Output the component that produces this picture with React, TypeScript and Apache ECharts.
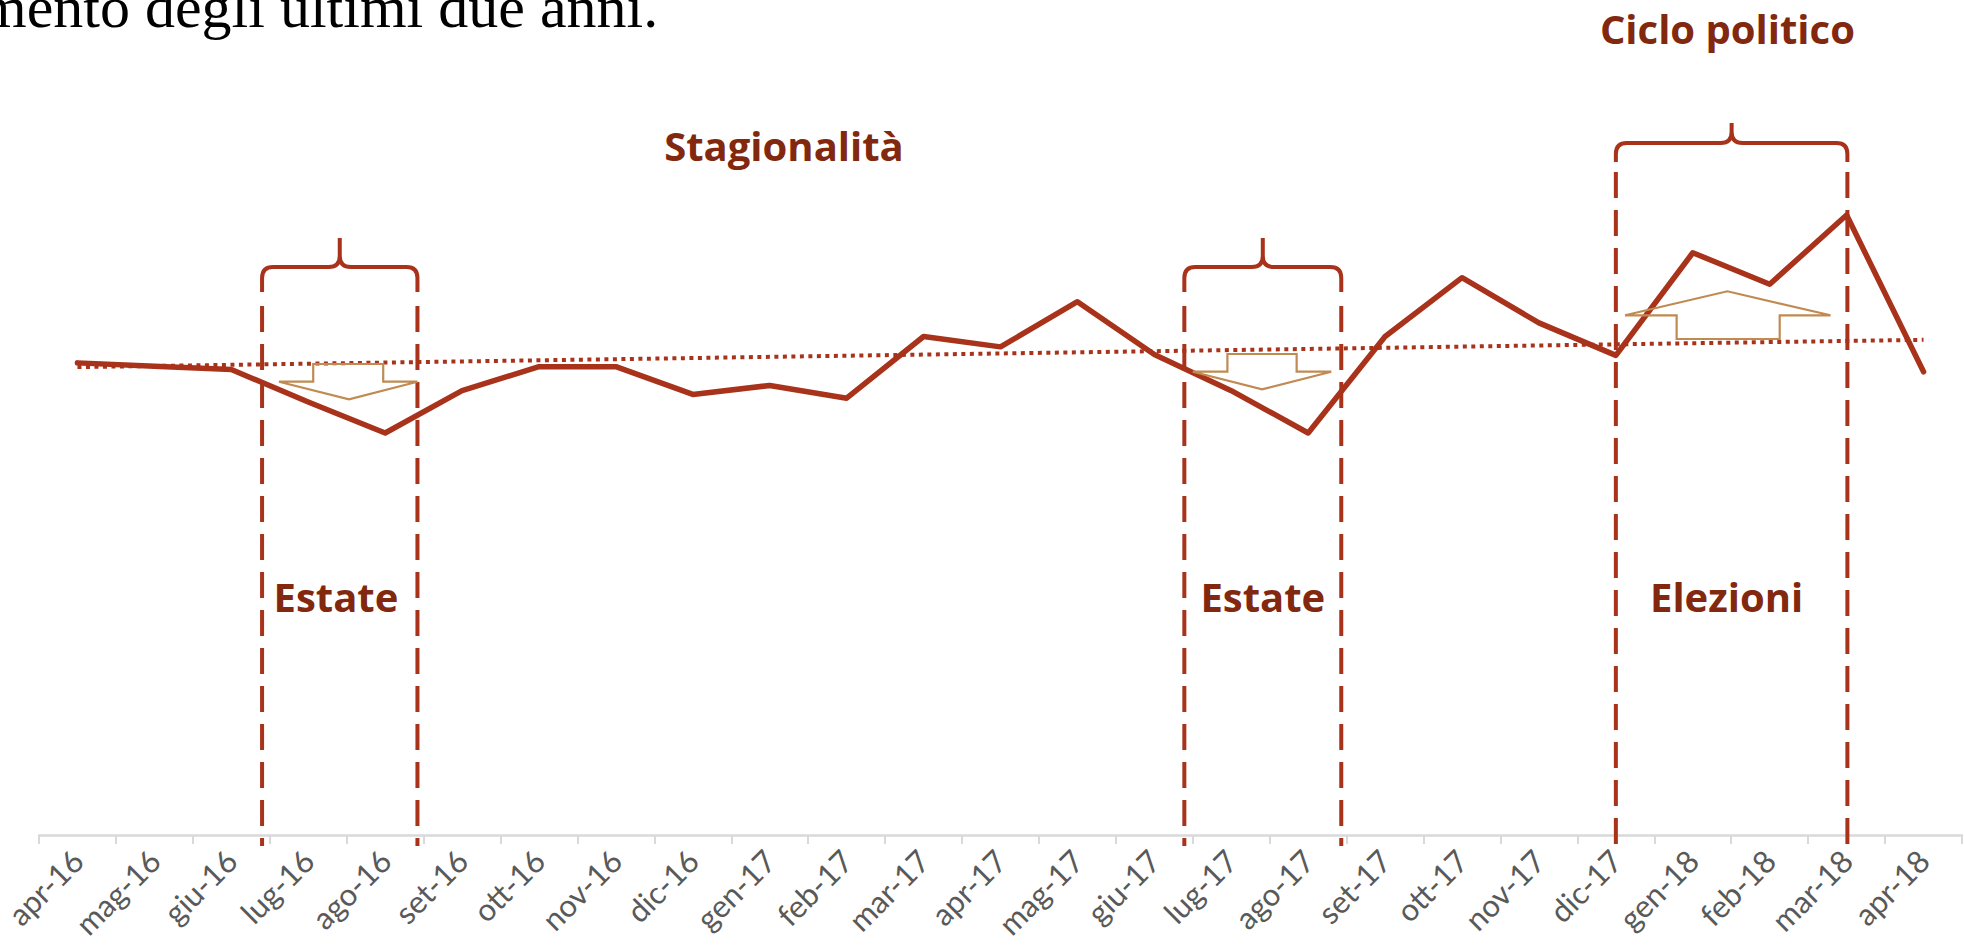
import React, { useEffect, useRef } from "react";
import * as echarts from "echarts";

// ---------- data ----------
const months = [
  "apr-16", "mag-16", "giu-16", "lug-16", "ago-16", "set-16", "ott-16", "nov-16",
  "dic-16", "gen-17", "feb-17", "mar-17", "apr-17", "mag-17", "giu-17", "lug-17",
  "ago-17", "set-17", "ott-17", "nov-17", "dic-17", "gen-18", "feb-18", "mar-18", "apr-18",
];
const values = [
  100.3, 99.6, 98.9, 92.0, 85.4, 94.4, 99.5, 99.5,
  93.6, 95.5, 92.8, 105.9, 103.7, 113.3, 102.1, 94.4,
  85.4, 105.9, 118.4, 108.8, 101.9, 123.7, 117.0, 131.7, 98.4,
];
const trendStart = 99.4;
const trendEnd = 105.2;

const titles = ["Stagionalità", "Ciclo politico"];
const periodLabels = ["Estate", "Estate", "Elezioni"];
const headerText = "mento degli ultimi due anni.";

// ---------- styles ----------
const RED = "#A8321A";
const TEXT_RED = "#82280F";
const TAN = "#C08A52";
const LABEL_FONT = "'Open Sans', Lato, sans-serif";

// curly brace shape
const Brace = (echarts.graphic as any).extendShape({
  shape: { x1: 0, x2: 0, y: 0, tip: 0, bottom: 0, r: 10 },
  buildPath(ctx: any, s: any) {
    const { x1, x2, y, tip, bottom, r } = s;
    const cx = (x1 + x2) / 2;
    ctx.moveTo(x1, bottom);
    ctx.lineTo(x1, y + r);
    ctx.quadraticCurveTo(x1, y, x1 + r, y);
    ctx.lineTo(cx - r, y);
    ctx.quadraticCurveTo(cx, y, cx, y - r);
    ctx.lineTo(cx, tip);
    ctx.moveTo(cx, y - r);
    ctx.quadraticCurveTo(cx, y, cx + r, y);
    ctx.lineTo(x2 - r, y);
    ctx.quadraticCurveTo(x2, y, x2, y + r);
    ctx.lineTo(x2, bottom);
  },
});
(echarts.graphic as any).registerShape("brace", Brace);

// annotation layout (x in category-index units, y in pixels)
const braces = [
  { from: 2.4, to: 4.42, y: 267, tip: 238, bottom: 292, dashTop: 306 },
  { from: 14.39, to: 16.43, y: 267, tip: 238, bottom: 292, dashTop: 306 },
  { from: 20.0, to: 23.01, y: 143, tip: 123, bottom: 162, dashTop: 172 },
];
const arrows = [
  { shaft: [3.065, 3.975], head: [2.62, 4.42], tip: 3.53, ys: [364, 381.7, 399.3] },
  { shaft: [14.95, 15.85], head: [14.5, 16.3], tip: 15.4, ys: [354, 371.7, 389.3] },
  { shaft: [20.79, 22.13], head: [20.12, 22.79], tip: 21.45, ys: [339, 315.3, 291.3] },
];
const titlePos = [
  { x: 9.185, y: 145 },
  { x: 21.45, y: 28 },
];
const labelPos = [
  { x: 3.36, y: 596 },
  { x: 15.41, y: 596 },
  { x: 21.44, y: 596 },
];

export default function App() {
  const ref = useRef<HTMLDivElement>(null);
  useEffect(() => {
    const chart = echarts.init(ref.current!, null, { renderer: "svg" });
    chart.setOption({
      animation: false,
      backgroundColor: "#fff",
      grid: {
        left: 39, right: 2, top: 176, bottom: 110,
        containLabel: false, outerBoundsMode: "none",
      },
      xAxis: {
        type: "category",
        data: months,
        boundaryGap: true,
        axisLine: { lineStyle: { color: "#D9D9D9", width: 2.5 } },
        axisTick: { show: true, length: 9, lineStyle: { color: "#D9D9D9", width: 2 } },
        axisLabel: {
          interval: 0,
          rotate: 45,
          margin: 20,
          color: "#595959",
          fontSize: 31,
          fontFamily: "Lato",
        },
      },
      yAxis: { type: "value", min: 0, max: 140, show: false, splitLine: { show: false } },
      series: [
        {
          type: "line",
          data: months.map((_, i) => (i === 0 ? trendStart : i === months.length - 1 ? trendEnd : null)),
          connectNulls: true,
          showSymbol: false,
          symbol: "none",
          lineStyle: { color: RED, width: 4, type: [4, 4.5], cap: "butt" },
          z: 1,
        },
        {
          type: "line",
          data: values,
          showSymbol: false,
          symbol: "none",
          lineStyle: { color: RED, width: 5.5, cap: "round", join: "round" },
          z: 2,
        },
      ],
    });

    const p0 = chart.convertToPixel({ xAxisIndex: 0 }, 0) as number;
    const p1 = chart.convertToPixel({ xAxisIndex: 0 }, 1) as number;
    const X = (i: number) => p0 + i * (p1 - p0);
    const axisY = chart.convertToPixel({ yAxisIndex: 0 }, 0) as number;

    const elements: any[] = [];
    braces.forEach((b) => {
      const x1 = X(b.from);
      const x2 = X(b.to);
      elements.push({
        type: "brace",
        shape: { x1, x2, y: b.y, tip: b.tip, bottom: b.bottom, r: 11 },
        style: { stroke: RED, lineWidth: 4, fill: "none" },
        z: 20,
      });
      [x1, x2].forEach((x) =>
        elements.push({
          type: "line",
          shape: { x1: x, y1: b.dashTop, x2: x, y2: axisY + 11 },
          style: { stroke: RED, lineWidth: 4, lineDash: [26, 12] },
          z: 20,
        })
      );
    });
    arrows.forEach((a) => {
      const [s1, s2] = a.shaft;
      const [h1, h2] = a.head;
      const [yb, ys, yt] = a.ys;
      elements.push({
        type: "polygon",
        shape: {
          points: [
            [X(s1), yb], [X(s2), yb], [X(s2), ys], [X(h2), ys],
            [X(a.tip), yt], [X(h1), ys], [X(s1), ys],
          ],
        },
        style: { stroke: TAN, lineWidth: 2.2, fill: "none" },
        z: 30,
      });
    });
    titles.forEach((t, i) =>
      elements.push({
        type: "text",
        x: X(titlePos[i].x),
        y: titlePos[i].y,
        style: {
          text: t, fill: TEXT_RED, fontSize: 40, fontWeight: "bold",
          fontFamily: LABEL_FONT, align: "center", verticalAlign: "middle",
        },
        z: 40,
      })
    );
    periodLabels.forEach((t, i) =>
      elements.push({
        type: "text",
        x: X(labelPos[i].x),
        y: labelPos[i].y,
        style: {
          text: t, fill: TEXT_RED, fontSize: 40, fontWeight: "bold",
          fontFamily: LABEL_FONT, align: "center", verticalAlign: "middle",
        },
        z: 40,
      })
    );
    elements.push({
      type: "text",
      x: -20,
      y: 7,
      style: {
        text: headerText, fill: "#000", fontSize: 60,
        fontFamily: "Liberation Serif", align: "left", verticalAlign: "middle",
      },
      z: 40,
    });

    chart.setOption({ graphic: { elements } });
    return () => chart.dispose();
  }, []);

  return (
    <div
      ref={ref}
      style={{ position: "fixed", left: 0, top: 0, width: 1964, height: 945, background: "#fff" }}
    />
  );
}
